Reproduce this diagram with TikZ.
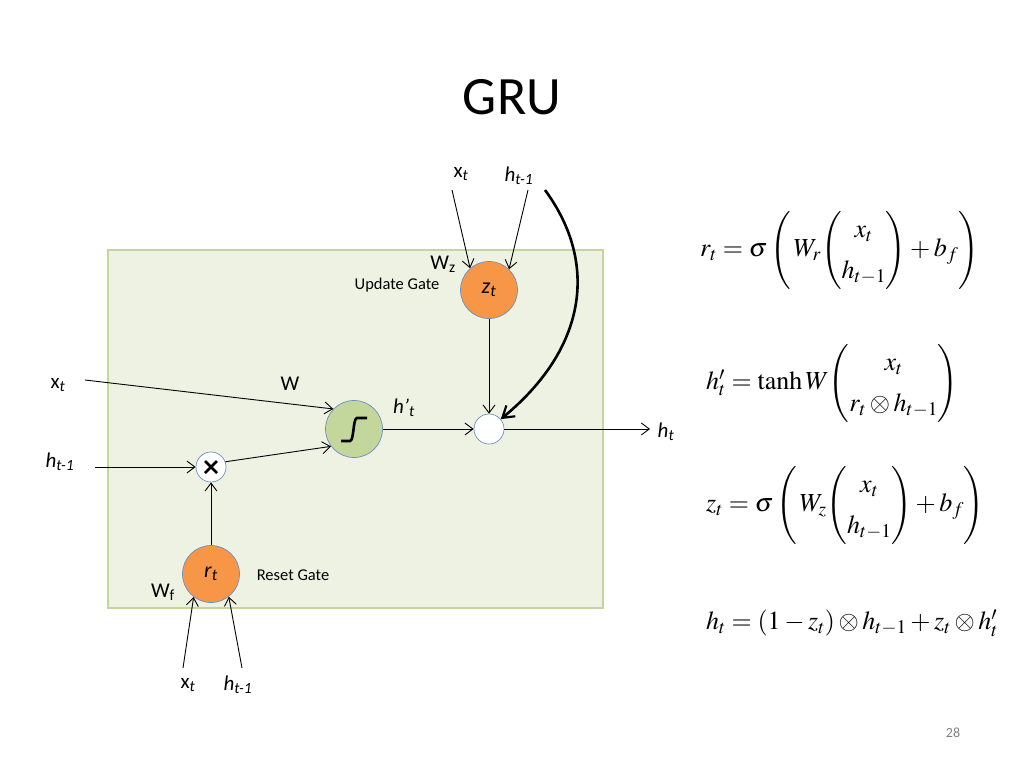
\documentclass[tikz,border=0pt]{standalone}
\usepackage{amsmath}
\usepackage{mathptmx}
\usepackage[no-math]{fontspec}
\setmainfont{Carlito}
\usetikzlibrary{arrows.meta}
\definecolor{orng}{HTML}{F79646}
\definecolor{sgreen}{HTML}{C3D69B}
\definecolor{boxfill}{HTML}{EEF2E3}
\definecolor{boxdraw}{HTML}{C4D69E}
\definecolor{cborder}{HTML}{6F8FBF}
\tikzset{
  lbl/.style={font=\fontsize{21}{24}\selectfont, inner sep=0pt},
  small/.style={font=\fontsize{16.5}{19}\selectfont, inner sep=0pt},
  gate/.style={circle, minimum size=57pt, inner sep=0pt, fill=orng, draw=cborder, line width=0.7pt, font=\fontsize{22}{24}\selectfont},
  opc/.style={circle, minimum size=30pt, inner sep=0pt, fill=white, draw=cborder, line width=0.7pt},
  arr/.style={-{Straight Barb[length=8pt,width=12pt]}, line width=0.9pt},
  eq/.style={anchor=west, inner sep=0pt, font=\fontsize{26}{30}\selectfont\renewcommand{\arraystretch}{1.35}}
}
\begin{document}
\begin{tikzpicture}[x=1pt,y=-1pt]
\useasboundingbox (0,0) rectangle (1024,768);
% title
\node[font=\fontsize{54}{60}\selectfont] (title) at (512,97) {GRU};
% box
\draw[fill=boxfill, draw=boxdraw, line width=1.2pt] (108,250) rectangle (603,608);
% nodes
\node[gate] (z) at (489,290) {\textit{z}\textsubscript{\textit{t}}};
\node[gate, fill=sgreen] (sig) at (354,429) {};
\node[opc, path picture={\draw[black, line width=2.6pt] ([shift={(-6,-6)}]path picture bounding box.center) -- ++(12,12) ([shift={(-6,6)}]path picture bounding box.center) -- ++(12,-12);}] (mul) at (211,467) {};
\node[opc] (sum) at (489,429) {};
\node[gate] (r) at (211,574) {\textit{r}\textsubscript{\textit{t}}};
% sigmoid glyph
\draw[line width=2.6pt, shift={(sig.center)}] (-13,12) -- (-4,12) .. controls (0,12) and (-1,-11) .. (3,-11) -- (13,-11);
% labels
\node[lbl] (xtop) at (461,174) {x\textsubscript{\textit{t}}};
\node[lbl] (htop) at (519,176) {\textit{h}\textsubscript{\textit{t-1}}};
\node[lbl] (wz) at (443,264) {W\textsubscript{z}};
\node[small] (ug) at (397,285) {Update Gate};
\node[lbl] (xleft) at (58,385) {x\textsubscript{\textit{t}}};
\node[lbl] (hleft) at (60,462) {\textit{h}\textsubscript{\textit{t-1}}};
\node[lbl] (w) at (290,384) {W};
\node[lbl] (hp) at (404,408) {\textit{h'}\textsubscript{\textit{t}}};
\node[lbl] (ht) at (666,432) {\textit{h}\textsubscript{\textit{t}}};
\node[small] (rg) at (293,575) {Reset Gate};
\node[lbl] (wf) at (163,592) {W\textsubscript{f}};
\node[lbl] (xbot) at (188,685) {x\textsubscript{\textit{t}}};
\node[lbl] (hbot) at (238,685) {\textit{h}\textsubscript{\textit{t-1}}};
\node[font=\fontsize{14}{16}\selectfont, text=gray] (pg) at (953,733) {28};
% coordinates for free ends
\coordinate (a1) at (452,190);
\coordinate (a2) at (528,190);
\coordinate (a3) at (545,190);
\coordinate (a4) at (85,380);
\coordinate (a5) at (95,467);
\coordinate (a6) at (183,668);
\coordinate (a7) at (242,668);
\coordinate (hend) at (650,429);
% connectors
\draw[arr] (a1) -- (z.131);
\draw[arr] (a2) -- (z.46);
\draw[-{Straight Barb[length=11pt,width=14pt,line width=2.2pt]}, line width=2.6pt] (a3) .. controls (600,265) and (585,350) .. (sum.40);
\draw[arr] (z.south) -- (sum.north);
\draw[arr] (sig.east) -- (sum.west);
\draw[arr] (sum.east) -- (hend);
\draw[arr] (a4) -- (sig.136);
\draw[arr] (a5) -- (mul.west);
\draw[arr] (mul.20) -- (sig.217);
\draw[arr] (r.north) -- (mul.south);
\draw[arr] (a6) -- (r.233);
\draw[arr] (a7) -- (r.308);
% equations
\node[eq] (e1) at (700,250) {$r_t=\sigma\left(\,W_r\!\begin{pmatrix}x_t\\ h_{t-1}\end{pmatrix}+b_f\right)$};
\node[eq] (e2) at (706,383) {$h'_t=\tanh W\!\begin{pmatrix}x_t\\ r_t\otimes h_{t-1}\end{pmatrix}$};
\node[eq] (e3) at (706,505) {$z_t=\sigma\left(\,W_z\!\begin{pmatrix}x_t\\ h_{t-1}\end{pmatrix}+b_f\right)$};
\node[eq] (e4) at (706,623) {$h_t=(1-z_t)\otimes h_{t-1}+z_t\otimes h'_t$};
\end{tikzpicture}
\end{document}
